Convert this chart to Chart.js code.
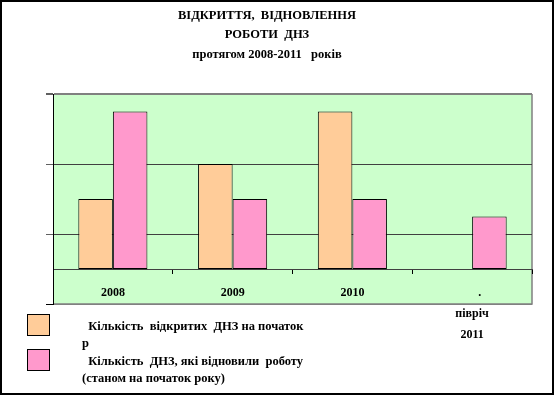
<!DOCTYPE html>
<html>
<head>
<meta charset="utf-8">
<script src="https://cdn.jsdelivr.net/npm/chart.js@4/dist/chart.umd.min.js"></script>
<style>
  body{margin:0;background:#fff;}
  #wrap{position:relative;width:554px;height:395px;border:2px solid #000;box-sizing:border-box;}
</style>
</head>
<body>
<div id="wrap"><canvas id="myBar"></canvas></div>
<script>
const categories=[["2008"],["2009"],["2010"],["     .","півріч","2011"]];
const openedValues=[4,6,9,null];
const restoredValues=[9,4,4,3];
const yTicks=[-2,2,6,10];
const titleLines=["ВІДКРИТТЯ,  ВІДНОВЛЕННЯ","РОБОТИ  ДНЗ","протягом 2008-2011   років"];
const seriesLines=[
  ["  Кількість  відкритих  ДНЗ на початок","р"],
  ["  Кількість  ДНЗ, які відновили  роботу","(станом на початок року)"]
];

const serif='"Liberation Serif","Times New Roman",serif';

// green plot area with grey frame
const plotBg={
  id:'plotBg',
  beforeDraw(chart){
    const a=chart.chartArea, c=chart.ctx;
    c.save();
    c.fillStyle='#CCFFCC';
    c.fillRect(a.left,a.top,a.right-a.left,a.bottom-a.top);
    c.strokeStyle='#808080';
    c.lineWidth=1.5;
    c.beginPath();
    c.moveTo(a.right,a.top);c.lineTo(a.right,a.bottom);c.lineTo(a.left,a.bottom);
    c.stroke();
    c.restore();
  }
};

// legend with wrapped lines, drawn from the datasets
const boxLegend={
  id:'boxLegend',
  afterDraw(chart){
    const c=chart.ctx;
    c.save();
    c.font='bold 12.5px '+serif;
    c.textBaseline='middle';
    c.textAlign='left';
    chart.data.datasets.forEach((ds,i)=>{
      const top=312+i*35;
      c.fillStyle=ds.backgroundColor;
      c.fillRect(25,top,22,21);
      c.strokeStyle='#000';c.lineWidth=1;
      c.strokeRect(25.5,top+0.5,22,21);
      c.fillStyle='#000';
      seriesLines[i].forEach((t,j)=>{
        c.fillText(t,80,324.7+i*35+j*17.3);
      });
    });
    c.restore();
  }
};

const ctx=document.getElementById("myBar");
let barChart=new Chart(ctx,{
  type:'bar',
  data:{
    labels:categories,
    datasets:[{
      label:seriesLines[0].join(' ').trim(),
      data:openedValues,
      backgroundColor:"#FFCC99",
      borderColor:"#000",
      borderWidth:1,
      borderSkipped:false
    },{
      label:seriesLines[1].join(' ').trim(),
      data:restoredValues,
      backgroundColor:"#FF99CC",
      borderColor:"#000",
      borderWidth:1,
      borderSkipped:false
    }]
  },
  options:{
    responsive:true,
    maintainAspectRatio:false,
    animation:false,
    barPercentage:1,
    categoryPercentage:0.577,
    layout:{padding:{left:0,right:20,top:0,bottom:89}},
    plugins:{
      legend:{display:false},
      tooltip:{enabled:false},
      title:{
        display:true,
        text:titleLines,
        color:'#000',
        font:{family:serif,size:12.5,weight:'bold',lineHeight:'19.5px'},
        padding:{top:4,bottom:29.5}
      }
    },
    scales:{
      x:{
        position:{y:0},
        grid:{offset:true,drawOnChartArea:false,tickLength:4,color:'#000'},
        border:{color:'#404040',width:1},
        ticks:{color:'#000',font:{family:serif,size:12,weight:'bold',lineHeight:'21px'},padding:9,maxRotation:0,autoSkip:false}
      },
      y:{
        min:-2,max:10,
        afterBuildTicks:s=>{s.ticks=yTicks.map(v=>({value:v}));},
        afterFit:s=>{s.width=51;},
        ticks:{display:false},
        border:{color:'#000',width:1},
        grid:{
          tickLength:7,
          color:c=>(c.tick&&(c.tick.value===10||c.tick.value===-2))?'#808080':'#404040',
          lineWidth:c=>(c.tick&&c.tick.value===10)?2:1,
          tickColor:c=>(c.tick&&c.tick.value===-2)?'#000':'#606060'
        }
      }
    }
  },
  plugins:[plotBg,boxLegend]
});
</script>
</body>
</html>
